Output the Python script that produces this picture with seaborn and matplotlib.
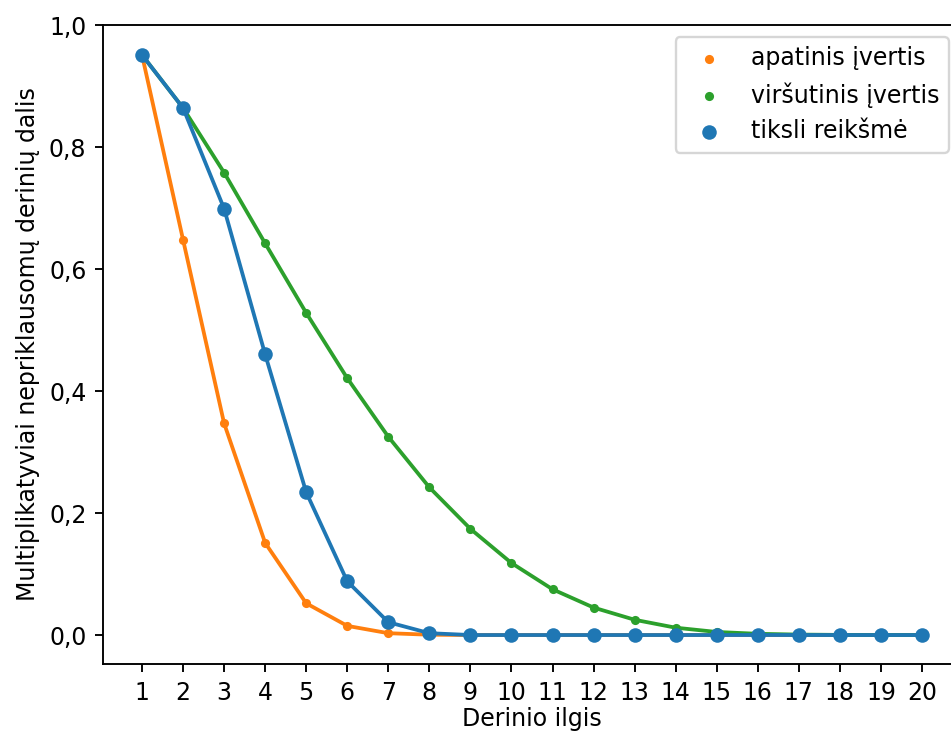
import matplotlib
matplotlib.use("Agg")
import matplotlib.pyplot as plt
import seaborn as sns
import pandas as pd
from matplotlib.ticker import FuncFormatter

lengths = list(range(1, 21))
lower = [0.951, 0.648, 0.347, 0.151, 0.052, 0.015, 0.003, 0.0005, 0.0, 0.0,
         0.0, 0.0, 0.0, 0.0, 0.0, 0.0, 0.0, 0.0, 0.0, 0.0]
upper = [0.951, 0.864, 0.758, 0.642, 0.528, 0.421, 0.325, 0.242, 0.174, 0.118,
         0.075, 0.045, 0.025, 0.012, 0.005, 0.002, 0.0007, 0.0002, 0.0, 0.0]
exact = [0.951, 0.864, 0.699, 0.460, 0.234, 0.088, 0.021, 0.003, 0.0, 0.0,
         0.0, 0.0, 0.0, 0.0, 0.0, 0.0, 0.0, 0.0, 0.0, 0.0]
labels = ["apatinis įvertis", "viršutinis įvertis", "tiksli reikšmė"]
colors = ["#ff7f0e", "#2ca02c", "#1f77b4"]

DPI = 170
fig = plt.figure(figsize=(952 / DPI, 736 / DPI), dpi=DPI)
ax = fig.add_axes([103 / 952, (736 - 664) / 736, 858 / 952, (664 - 25) / 736])

for vals, lab, col, s in zip([lower, upper, exact], labels, colors, [15, 15, 38]):
    df = pd.DataFrame({"x": lengths, "y": vals})
    sns.lineplot(data=df, x="x", y="y", color=col, linewidth=1.6, ax=ax)
    sns.scatterplot(data=df, x="x", y="y", color=col, s=s, linewidth=0,
                    label=lab, ax=ax, zorder=3)

ax.set_xlim(0.05, 20.95)
ax.set_ylim(-0.0475, 1.0)
ax.set_xticks(lengths)
ax.set_yticks([0.0, 0.2, 0.4, 0.6, 0.8, 1.0])
ax.yaxis.set_major_formatter(FuncFormatter(lambda v, p: f"{v:.1f}".replace(".", ",")))
ax.set_xlabel("Derinio ilgis", labelpad=1)
ax.set_ylabel("Multiplikatyviai nepriklausomų derinių dalis")
ax.legend(loc="upper right")
fig.savefig("out.png", dpi=DPI)
